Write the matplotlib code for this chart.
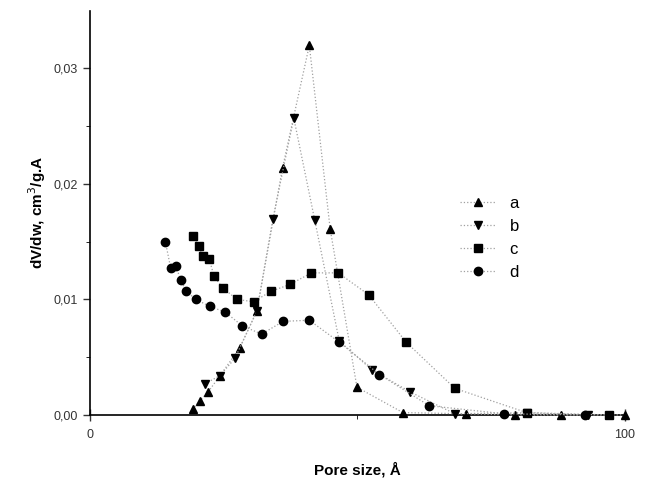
import numpy as np
import matplotlib
matplotlib.use("Agg")
import matplotlib.pyplot as plt
from matplotlib.ticker import FuncFormatter

plt.rcParams['font.family'] = ['Liberation Sans', 'DejaVu Sans']

# pore size (A) and dV/dw values
xa = [19.2, 20.5, 22.1, 24.3, 28.0, 31.2, 36.0, 41.0, 44.9, 49.9, 58.5, 70.3, 79.5, 88.0, 100.0]
ya = [0.0005, 0.0012, 0.0020, 0.0034, 0.0058, 0.0090, 0.0214, 0.0320, 0.0161, 0.0024,
      0.0002, 0.0001, 0.0, 0.0, 0.0]

xb = [21.5, 24.3, 27.1, 31.2, 34.2, 38.1, 42.0, 46.6, 52.7, 59.8, 68.2, 81.6, 93.0]
yb = [0.0027, 0.0034, 0.0049, 0.0090, 0.0170, 0.0257, 0.0169, 0.0064, 0.0039, 0.0020,
      0.0001, 0.0002, 0.0]

xc = [19.2, 20.3, 21.1, 22.3, 23.2, 24.8, 27.5, 30.6, 33.8, 37.4, 41.4, 46.4, 52.1,
      59.1, 68.2, 81.6, 97.0]
yc = [0.0155, 0.0146, 0.0138, 0.0135, 0.0120, 0.0110, 0.0100, 0.0098, 0.0107, 0.0113,
      0.0123, 0.0123, 0.0104, 0.0063, 0.0023, 0.0002, 0.0]

xd = [14.1, 15.1, 16.0, 17.0, 18.0, 19.8, 22.4, 25.3, 28.5, 32.1, 36.1, 41.0, 46.6,
      54.1, 63.4, 77.4, 92.5]
yd = [0.0150, 0.0127, 0.0129, 0.0117, 0.0107, 0.0100, 0.0094, 0.0089, 0.0077, 0.0070,
      0.0081, 0.0082, 0.0063, 0.0035, 0.0008, 0.0001, 0.0]

series = [("a", xa, ya, "^"), ("b", xb, yb, "v"), ("c", xc, yc, "s"), ("d", xd, yd, "o")]

fig = plt.figure(figsize=(6.47, 4.87), dpi=100)
ax = fig.add_axes([0.139, 0.148, 0.827, 0.83])

for name, x, y, m in series:
    ax.plot(x, y, color="#a0a0a0", lw=0.9, ls=":", marker=m, ms=6,
            mfc="black", mec="black", label=name, clip_on=False, zorder=3)

ax.set_xlim(0, 100)
ax.set_ylim(0, 0.035)
ax.spines['top'].set_visible(False)
ax.spines['right'].set_visible(False)
ax.spines['left'].set_linewidth(1.2)
ax.spines['bottom'].set_linewidth(1.2)

ax.set_xticks([0, 100])
ax.set_xticks([50], minor=True)
ax.set_yticks([0, 0.01, 0.02, 0.03])
ax.set_yticks([0.005, 0.015, 0.025], minor=True)
ax.yaxis.set_major_formatter(FuncFormatter(lambda v, p: ("%.2f" % v).replace(".", ",")))
ax.tick_params(axis='both', labelsize=9, colors="#333333", length=5, width=1)
ax.tick_params(axis='x', direction='inout', length=8, pad=6)
ax.tick_params(which='minor', length=3)

ax.set_xlabel("Pore size, Å", fontsize=11, fontweight="bold", labelpad=15)
ax.set_ylabel("dV/dw, cm$^3$/g.A", fontsize=11, fontweight="bold", labelpad=4)

ax.legend(loc="upper left", bbox_to_anchor=(0.663, 0.578), frameon=False, fontsize=12,
          handlelength=2.2, handletextpad=0.8, labelspacing=0.47)

fig.savefig("out.png", dpi=100)
